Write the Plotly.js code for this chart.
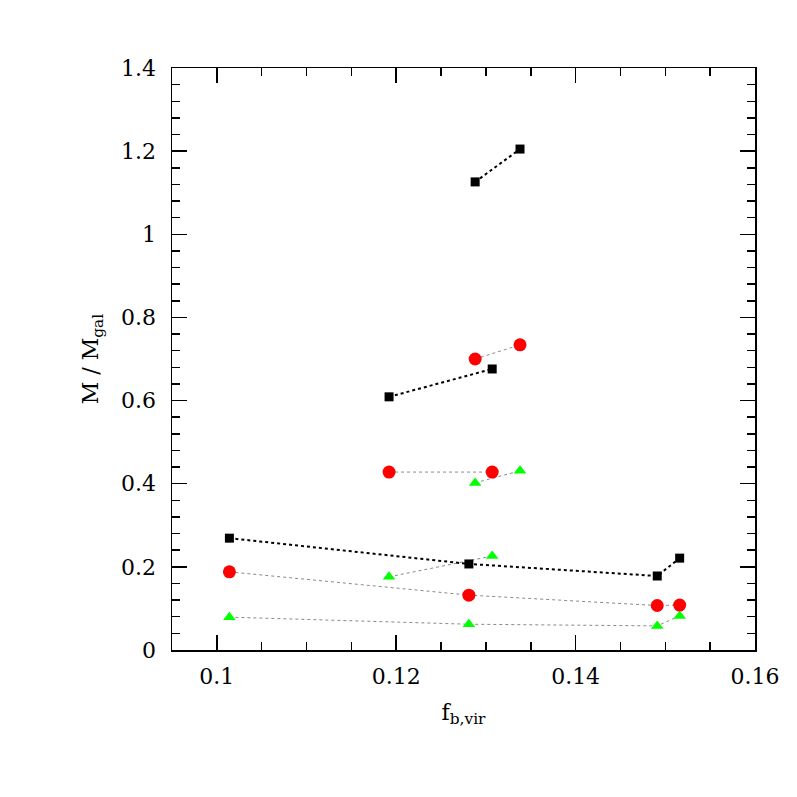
<!DOCTYPE html>
<html>
<head>
<meta charset="utf-8">
<script src="https://cdn.plot.ly/plotly-3.0.1.min.js"></script>
<style>
  html, body { margin: 0; padding: 0; background: #fff; }
  #grafico { width: 797px; height: 797px; }
</style>
</head>
<body>
<div id="grafico"></div>
<script>
// baryon fraction of each run group
const fbLow = [0.1014, 0.1281, 0.1491, 0.1516];
const fbMid = [0.1192, 0.1307];
const fbHigh = [0.1288, 0.1338];

// M / M_gal for each component
const blackLow = [0.269, 0.207, 0.178, 0.221];
const redLow = [0.188, 0.132, 0.107, 0.108];
const greenLow = [0.079, 0.062, 0.058, 0.082];

const blackMid = [0.609, 0.676];
const redMid = [0.428, 0.428];
const greenMid = [0.176, 0.226];

const blackHigh = [1.126, 1.205];
const redHigh = [0.700, 0.734];
const greenHigh = [0.402, 0.431];

const xTicks = [0.1, 0.12, 0.14, 0.16];
const xTickText = ['0.1', '0.12', '0.14', '0.16'];
const yTicks = [0, 0.2, 0.4, 0.6, 0.8, 1, 1.2, 1.4];
const yTickText = ['0', '0.2', '0.4', '0.6', '0.8', '1', '1.2', '1.4'];

function serie(x, y, lineColor, lineWidth, markerColor, symbol, size) {
    return {
        x: x,
        y: y,
        mode: 'lines+markers',
        type: 'scatter',
        line: { color: lineColor, width: lineWidth, dash: 'dot' },
        marker: { color: markerColor, symbol: symbol, size: size },
        showlegend: false,
        cliponaxis: false
    };
}

const data = [
    serie(fbLow, greenLow, '#8a8a8a', 1, '#00ff00', 'triangle-up', 11),
    serie(fbMid, greenMid, '#8a8a8a', 1, '#00ff00', 'triangle-up', 11),
    serie(fbHigh, greenHigh, '#8a8a8a', 1, '#00ff00', 'triangle-up', 11),
    serie(fbLow, redLow, '#8a8a8a', 1, '#ff0000', 'circle', 13),
    serie(fbMid, redMid, '#8a8a8a', 1, '#ff0000', 'circle', 13),
    serie(fbHigh, redHigh, '#8a8a8a', 1, '#ff0000', 'circle', 13),
    serie(fbLow, blackLow, '#000000', 2, '#000000', 'square', 9),
    serie(fbMid, blackMid, '#000000', 2, '#000000', 'square', 9),
    serie(fbHigh, blackHigh, '#000000', 2, '#000000', 'square', 9)
];

const axisFont = { family: 'DejaVu Serif', size: 22, color: '#000' };
const titleFont = { family: 'DejaVu Serif', size: 22, color: '#000' };

const layout = {
    width: 797,
    height: 797,
    margin: { l: 172, r: 42, t: 68, b: 147 },
    paper_bgcolor: '#fff',
    plot_bgcolor: '#fff',
    xaxis: {
        range: [0.095, 0.16],
        tickvals: xTicks,
        ticktext: xTickText,
        ticks: 'inside',
        ticklen: 15,
        tickwidth: 1.5,
        tickcolor: '#000',
        minor: { dtick: 0.005, ticks: 'inside', ticklen: 8, tickwidth: 1.5, tickcolor: '#000' },
        showline: true,
        linecolor: '#000',
        linewidth: 1.5,
        mirror: 'allticks',
        showgrid: false,
        zeroline: false,
        tickfont: axisFont,
        ticklabelstandoff: 6,
        title: { text: 'f<sub>b,vir</sub>', font: titleFont, standoff: 16 }
    },
    yaxis: {
        range: [0, 1.4],
        tickvals: yTicks,
        ticktext: yTickText,
        ticks: 'inside',
        ticklen: 15,
        tickwidth: 1.5,
        tickcolor: '#000',
        minor: { dtick: 0.04, ticks: 'inside', ticklen: 8, tickwidth: 1.5, tickcolor: '#000' },
        showline: true,
        linecolor: '#000',
        linewidth: 1.5,
        mirror: 'allticks',
        showgrid: false,
        zeroline: false,
        tickfont: axisFont,
        ticklabelstandoff: 10,
        title: { text: 'M / M<sub>gal</sub>', font: titleFont, standoff: 16 }
    }
};

Plotly.newPlot('grafico', data, layout, { displayModeBar: false, staticPlot: true });
</script>
</body>
</html>
